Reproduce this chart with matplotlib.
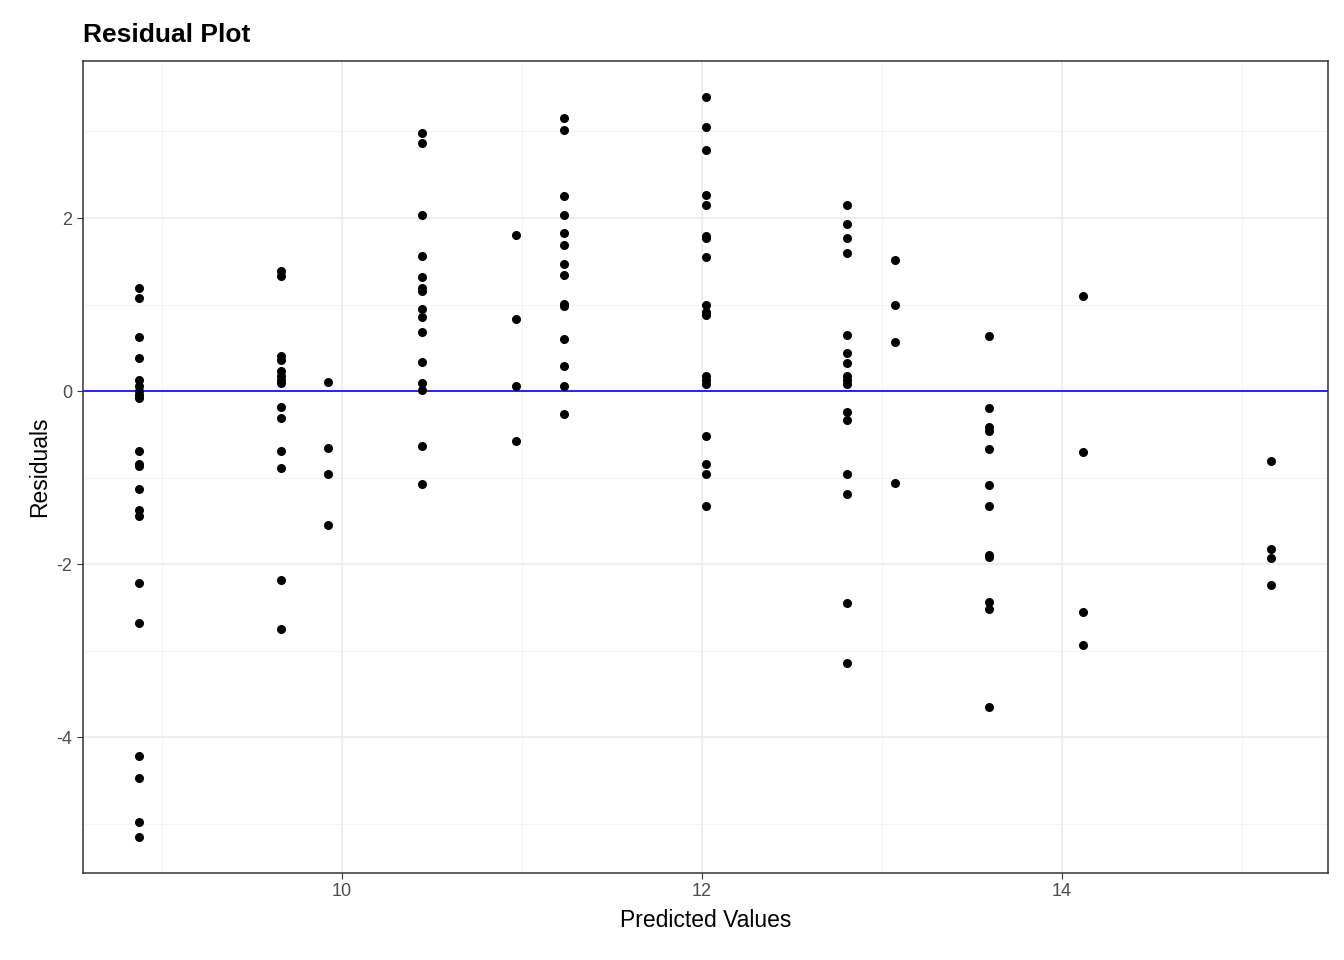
import numpy as np
import matplotlib.pyplot as plt

plt.rcParams['font.family'] = ['Liberation Sans', 'DejaVu Sans']

# predicted value of each column of points
pred_levels = [8.872, 9.661, 9.922, 10.444, 10.967, 11.233, 12.02, 12.806, 13.072, 13.594, 14.117, 15.161]
residuals_by_level = [
    [1.19, 1.08, 0.62, 0.38, 0.13, 0.06, 0.0, -0.05, -0.08, -0.69, -0.84, -0.87, -1.13, -1.38, -1.45, -2.22, -2.68, -4.22, -4.47, -4.98, -5.16],
    [1.39, 1.33, 0.40, 0.36, 0.23, 0.17, 0.13, 0.09, -0.18, -0.31, -0.69, -0.89, -2.18, -2.75],
    [0.10, -0.66, -0.96, -1.55],
    [2.98, 2.87, 2.03, 1.56, 1.32, 1.19, 1.16, 0.95, 0.86, 0.68, 0.34, 0.09, 0.01, -0.64, -1.08],
    [1.80, 0.83, 0.06, -0.58],
    [3.16, 3.02, 2.25, 2.03, 1.83, 1.69, 1.47, 1.34, 1.01, 0.98, 0.60, 0.29, 0.06, -0.27],
    [3.40, 3.05, 2.79, 2.27, 2.15, 1.79, 1.77, 1.55, 0.99, 0.91, 0.88, 0.17, 0.13, 0.08, -0.52, -0.84, -0.96, -1.33],
    [2.15, 1.93, 1.77, 1.60, 0.65, 0.44, 0.32, 0.17, 0.13, 0.08, -0.24, -0.34, -0.96, -1.19, -2.45, -3.14],
    [1.51, 0.99, 0.57, -1.06],
    [0.64, -0.20, -0.42, -0.46, -0.67, -1.09, -1.33, -1.90, -1.92, -2.44, -2.52, -3.65],
    [1.10, -0.71, -2.55, -2.94],
    [-0.81, -1.83, -1.93, -2.24],
]

x = []
y = []
for p, rs in zip(pred_levels, residuals_by_level):
    x += [p] * len(rs)
    y += rs

fig = plt.figure(figsize=(13.44, 9.6), dpi=100)
ax = fig.add_axes([83/1344, 87/960, 1245/1344, 812/960])

ax.set_xlim(8.561, 15.478)
ax.set_ylim(-5.572, 3.815)
ax.set_xticks([10, 12, 14])
ax.set_yticks([-4, -2, 0, 2])
ax.set_yticklabels(["-4", "-2", "0", "2"])
ax.set_xticks([9, 11, 13, 15], minor=True)
ax.set_yticks([-5, -3, -1, 1, 3], minor=True)
ax.grid(which="major", color="#ebebeb", lw=1.1)
ax.grid(which="minor", color="#f3f3f3", lw=0.6)
ax.set_axisbelow(True)
ax.tick_params(which="minor", length=0)
ax.tick_params(which="major", length=4, color="#333333", labelsize=13, labelcolor="#4d4d4d")
for s in ax.spines.values():
    s.set_color("#333333")
    s.set_linewidth(1.1)

ax.scatter(x, y, s=30, color="black", zorder=3)
ax.axhline(0, color="blue", lw=1.2, zorder=2)

ax.set_xlabel("Predicted Values", fontsize=16.5, labelpad=6)
ax.set_ylabel("Residuals", fontsize=16.5, labelpad=4)
ax.set_title("Residual Plot", fontsize=19, fontweight="bold", loc="left", pad=14)

fig.savefig("out.png", dpi=100)
